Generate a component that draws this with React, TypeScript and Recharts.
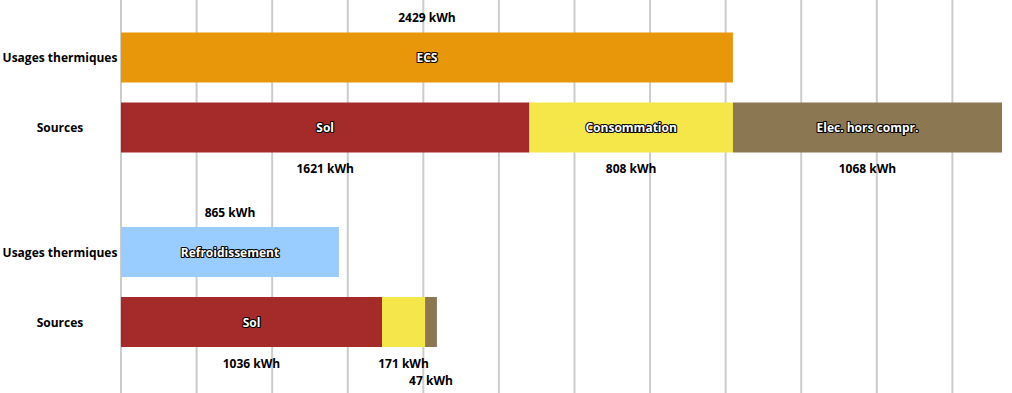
import { BarChart, Bar, XAxis, YAxis, CartesianGrid, LabelList } from 'recharts'

// Catégories (axe Y) et valeurs
const categories = ['Usages thermiques', 'Sources']
const gridTicks = [0, 300, 600, 900, 1200, 1500, 1800, 2100, 2400, 2700, 3000, 3300]
const xMax = 3497

// Bloc ECS
const ecsUsage = [2429, 0]
const ecsSol = [0, 1621]
const ecsConso = [0, 808]
const ecsElec = [0, 1068]

// Bloc refroidissement
const froidUsage = [865, 0]
const froidSol = [0, 1036]
const froidConso = [0, 171]
const froidElec = [0, 47]

const FONT = '"Open Sans", "Noto Sans", sans-serif'

const colors = {
  ecs: '#e8970b',
  froid: '#99ccff',
  sol: '#a52a2a',
  conso: '#f5e64a',
  elec: '#8b7853',
}

function buildRows(usage: number[], sol: number[], conso: number[], elec: number[]) {
  return categories.map((name, i) => ({
    name,
    usage: usage[i] || undefined,
    sol: sol[i] || undefined,
    conso: conso[i] || undefined,
    elec: elec[i] || undefined,
  }))
}

function YTick(props: { x?: number; y?: number; payload?: { value: string } }) {
  const { x = 0, y = 0, payload } = props
  return (
    <text
      x={x - 55}
      y={y}
      textAnchor="middle"
      dominantBaseline="central"
      style={{ fontSize: 12, fontWeight: 700, fill: '#000', fontFamily: FONT }}
    >
      {payload?.value}
    </text>
  )
}

// pas de libellé sur l'axe X, seulement la grille
function EmptyTick() {
  return <g />
}

// Nom de la série, blanc cerné de noir, au centre du segment (si la place suffit)
function makeInnerLabel(label: string) {
  return function InnerLabel(props: { x?: number; y?: number; width?: number; height?: number; value?: number }) {
    const { x = 0, y = 0, width = 0, height = 0, value } = props
    if (!value || width < label.length * 7.5) return null
    return (
      <text
        x={x + width / 2}
        y={y + height / 2}
        textAnchor="middle"
        dominantBaseline="central"
        stroke="#000"
        strokeWidth={2.2}
        paintOrder="stroke"
        strokeLinejoin="round"
        style={{ fontSize: 12, fontWeight: 700, fill: '#fff', fontFamily: FONT }}
      >
        {label}
      </text>
    )
  }
}

// Valeur en kWh : au-dessus pour les usages, en dessous pour les sources
function makeValueLabel(above: boolean) {
  return function ValueLabel(props: { x?: number; y?: number; width?: number; height?: number; value?: number }) {
    const { x = 0, y = 0, width = 0, height = 0, value } = props
    if (!value) return null
    const ty = above ? y - 15 : y + height + (width < 30 ? 33 : 16)
    return (
      <text
        x={x + width / 2}
        y={ty}
        textAnchor="middle"
        dominantBaseline="central"
        style={{ fontSize: 12, fontWeight: 700, fill: '#000', fontFamily: FONT }}
      >
        {value} kWh
      </text>
    )
  }
}

// lignes verticales uniquement aux graduations (pas au bord droit)
function gridX(props: { offset?: { left?: number; width?: number } }) {
  const left = props.offset?.left ?? 0
  const width = props.offset?.width ?? 0
  return gridTicks.map((t) => left + (t / xMax) * width)
}

function Block(props: {
  rows: ReturnType<typeof buildRows>
  usageName: string
  usageColor: string
  height: number
  padTop: number
  padBottom: number
}) {
  const { rows, usageName, usageColor, height, padTop, padBottom } = props
  const series = [
    { key: 'usage', name: usageName, color: usageColor, above: true },
    { key: 'sol', name: 'Sol', color: colors.sol, above: false },
    { key: 'conso', name: 'Consommation', color: colors.conso, above: false },
    { key: 'elec', name: 'Elec. hors compr.', color: colors.elec, above: false },
  ]
  return (
    <BarChart
      width={1012}
      height={height}
      data={rows}
      layout="vertical"
      margin={{ top: 0, right: 10, bottom: 0, left: 0 }}
      barCategoryGap={10}
    >
      <CartesianGrid
        horizontal={false}
        verticalCoordinatesGenerator={gridX}
        stroke="#cccccc"
        strokeWidth={2}
      />
      <XAxis
        type="number"
        domain={[0, xMax]}
        ticks={gridTicks}
        interval={0}
        tick={<EmptyTick />}
        tickLine={false}
        axisLine={false}
        height={0}
      />
      <YAxis
        type="category"
        dataKey="name"
        width={121}
        tickLine={false}
        axisLine={false}
        tickMargin={0}
        tick={<YTick />}
        padding={{ top: padTop, bottom: padBottom }}
      />
      {series.map((s) => (
        <Bar key={s.key} dataKey={s.key} stackId="a" fill={s.color} isAnimationActive={false}>
          <LabelList dataKey={s.key} content={makeInnerLabel(s.name)} />
          <LabelList dataKey={s.key} content={makeValueLabel(s.above)} />
        </Bar>
      ))}
    </BarChart>
  )
}

export default function App() {
  const ecsRows = buildRows(ecsUsage, ecsSol, ecsConso, ecsElec)
  const froidRows = buildRows(froidUsage, froidSol, froidConso, froidElec)
  return (
    <div style={{ position: 'absolute', left: 0, top: 0, width: 1012, height: 393, background: '#fff' }}>
      <Block rows={ecsRows} usageName="ECS" usageColor={colors.ecs} height={190} padTop={22.5} padBottom={27.5} />
      <Block rows={froidRows} usageName="Refroidissement" usageColor={colors.froid} height={203} padTop={27} padBottom={36} />
    </div>
  )
}
